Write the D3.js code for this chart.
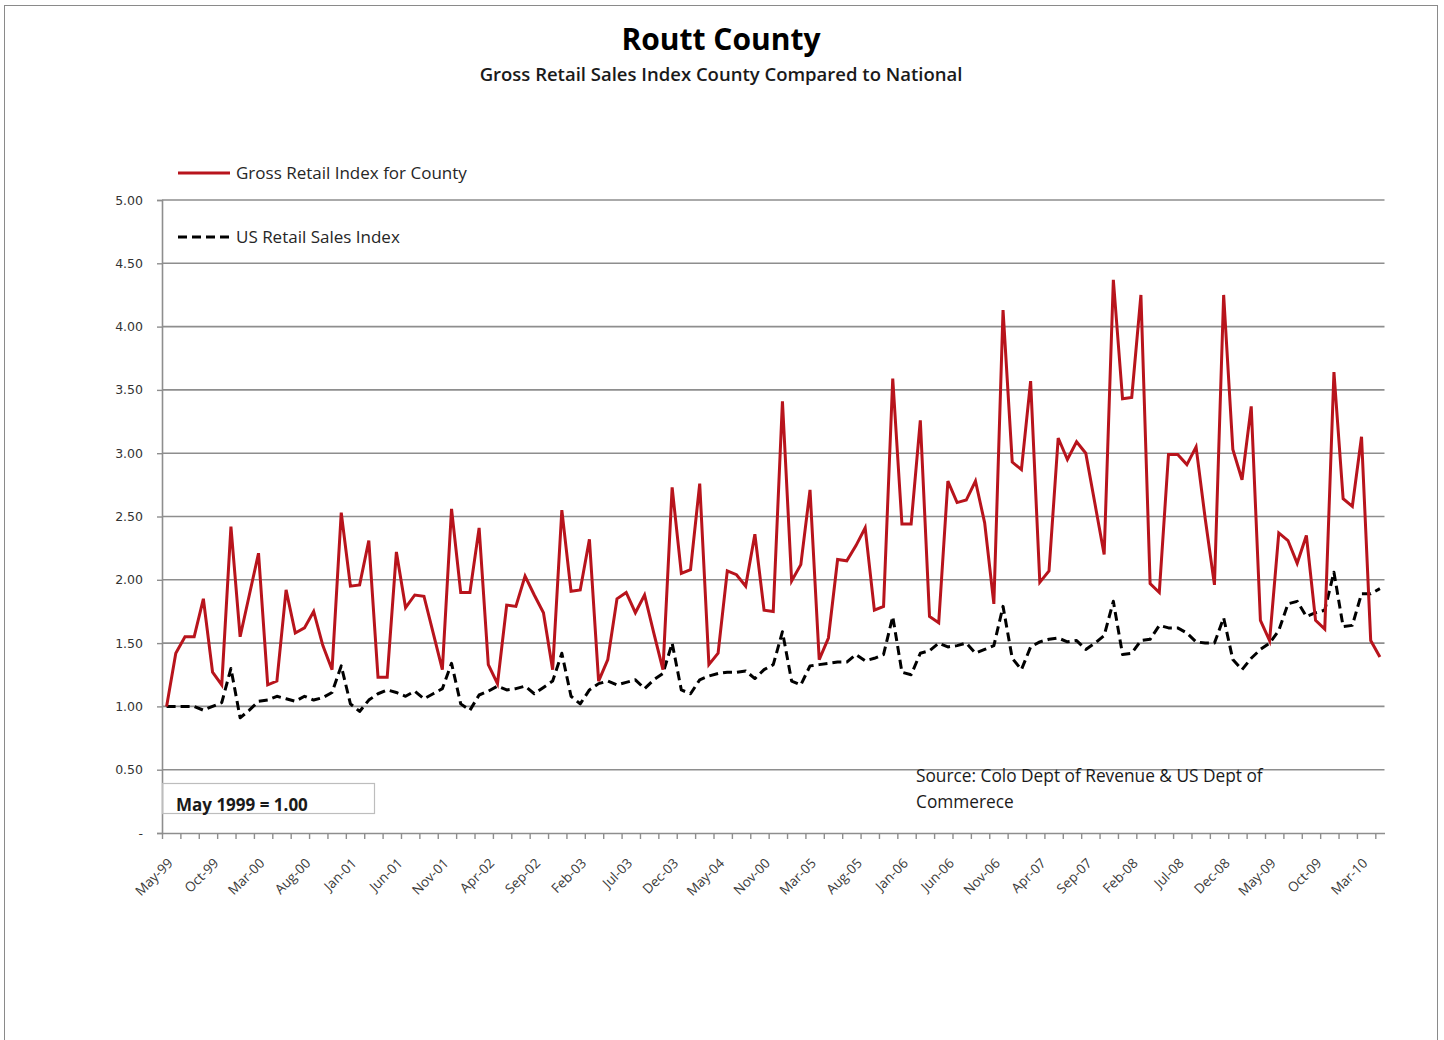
<!DOCTYPE html>
<html>
<head>
<meta charset="utf-8">
<script src="https://cdn.jsdelivr.net/npm/d3@7/dist/d3.min.js"></script>
<style>
  html, body { margin: 0; padding: 0; background: #ffffff; }
  svg { display: block; font-family: "Open Sans", Lato, sans-serif; }
</style>
</head>
<body>
<svg id="chart" width="1444" height="1040"></svg>
<script>
// Monthly index values, May 1999 = 1.00 (May-99 through May-10)
const countyIndex = [
  1.00, 1.42, 1.55, 1.55, 1.85, 1.27, 1.17, 2.42, 1.55, 1.88,
  2.21, 1.17, 1.20, 1.92, 1.58, 1.62, 1.75, 1.48, 1.29, 2.53,
  1.95, 1.96, 2.31, 1.23, 1.23, 2.22, 1.78, 1.88, 1.87, 1.58,
  1.29, 2.56, 1.90, 1.90, 2.41, 1.33, 1.18, 1.80, 1.79, 2.03,
  1.88, 1.74, 1.29, 2.55, 1.91, 1.92, 2.32, 1.20, 1.37, 1.85,
  1.90, 1.74, 1.88, 1.58, 1.29, 2.73, 2.05, 2.08, 2.76, 1.33,
  1.42, 2.07, 2.04, 1.95, 2.36, 1.76, 1.75, 3.41, 1.99, 2.12,
  2.71, 1.37, 1.54, 2.16, 2.15, 2.27, 2.41, 1.76, 1.79, 3.59,
  2.44, 2.44, 3.26, 1.71, 1.66, 2.78, 2.61, 2.63, 2.78, 2.45,
  1.81, 4.13, 2.93, 2.87, 3.57, 1.98, 2.07, 3.12, 2.95, 3.09,
  3.00, 2.60, 2.20, 4.37, 3.43, 3.44, 4.25, 1.97, 1.90, 2.99,
  2.99, 2.91, 3.05, 2.48, 1.96, 4.25, 3.03, 2.79, 3.37, 1.68,
  1.52, 2.37, 2.31, 2.13, 2.35, 1.68, 1.61, 3.64, 2.64, 2.58,
  3.13, 1.52, 1.39
];

const usIndex = [
  1.00, 1.00, 1.00, 1.00, 0.97, 1.00, 1.03, 1.30, 0.91, 0.97,
  1.04, 1.05, 1.08, 1.06, 1.04, 1.08, 1.05, 1.07, 1.11, 1.32,
  1.02, 0.96, 1.05, 1.10, 1.13, 1.11, 1.08, 1.12, 1.06, 1.10,
  1.14, 1.34, 1.02, 0.97, 1.09, 1.12, 1.16, 1.13, 1.14, 1.16,
  1.10, 1.15, 1.20, 1.42, 1.08, 1.02, 1.13, 1.18, 1.20, 1.17,
  1.19, 1.21, 1.14, 1.21, 1.26, 1.50, 1.13, 1.10, 1.21, 1.24,
  1.26, 1.27, 1.27, 1.28, 1.22, 1.29, 1.33, 1.59, 1.20, 1.17,
  1.32, 1.33, 1.34, 1.35, 1.35, 1.41, 1.36, 1.38, 1.41, 1.71,
  1.27, 1.25, 1.42, 1.44, 1.50, 1.47, 1.48, 1.50, 1.42, 1.45,
  1.48, 1.79, 1.38, 1.29, 1.47, 1.51, 1.53, 1.54, 1.51, 1.52,
  1.45, 1.50, 1.56, 1.83, 1.41, 1.42, 1.52, 1.53, 1.64, 1.62,
  1.62, 1.58, 1.51, 1.50, 1.50, 1.70, 1.37, 1.29, 1.38, 1.45,
  1.50, 1.60, 1.81, 1.83, 1.71, 1.74, 1.76, 2.06, 1.63, 1.64,
  1.89, 1.89, 1.93
];

// Category axis labels, one every five months starting at May-99
const tickLabels = [
  "May-99", "Oct-99", "Mar-00", "Aug-00", "Jan-01", "Jun-01", "Nov-01",
  "Apr-02", "Sep-02", "Feb-03", "Jul-03", "Dec-03", "May-04", "Nov-00",
  "Mar-05", "Aug-05", "Jan-06", "Jun-06", "Nov-06", "Apr-07", "Sep-07",
  "Feb-08", "Jul-08", "Dec-08", "May-09", "Oct-09", "Mar-10"
];
const labelEvery = 5;   // months between category labels
const tickEvery = 2;    // months between tick marks

const yTickValues = [0, 0.5, 1, 1.5, 2, 2.5, 3, 3.5, 4, 4.5, 5];

const seriesNames = ["Gross Retail Index for County", "US Retail Sales Index"];
const titleText = "Routt County";
const subtitleText = "Gross Retail Sales Index County Compared to National";
const baseNote = "May 1999 = 1.00";
const sourceLines = ["Source: Colo Dept of Revenue & US Dept of", "Commerece"];

const svg = d3.select("#chart");
const W = 1444, H = 1040;

const plot = { left: 162, right: 1384.5, top: 200, bottom: 833 };
const n = countyIndex.length;

const x = d3.scaleLinear().domain([0, n]).range([plot.left, plot.right]);
const y = d3.scaleLinear().domain([0, 5]).range([plot.bottom, plot.top]);

const gridColor = "#8e8e8e";
const countyColor = "#b8141c";

// outer frame
svg.append("rect")
  .attr("x", 4.5).attr("y", 5.5)
  .attr("width", 1433).attr("height", H + 10)
  .attr("fill", "#ffffff")
  .attr("stroke", "#8a8a8a").attr("stroke-width", 1);

// titles
svg.append("text")
  .attr("x", 721).attr("y", 50)
  .attr("text-anchor", "middle")
  .attr("font-size", 30).attr("font-weight", 700)
  .attr("fill", "#000")
  .text(titleText);

svg.append("text")
  .attr("x", 721).attr("y", 81)
  .attr("text-anchor", "middle")
  .attr("font-size", 18.5).attr("font-weight", 600)
  .attr("fill", "#1a1a1a")
  .text(subtitleText);

// horizontal gridlines
svg.append("g")
  .selectAll("line")
  .data(yTickValues.filter(v => v > 0))
  .join("line")
  .attr("x1", plot.left).attr("x2", plot.right)
  .attr("y1", d => y(d)).attr("y2", d => y(d))
  .attr("stroke", gridColor).attr("stroke-width", 1.6);

// y axis
const yAxis = d3.axisLeft(y)
  .tickValues(yTickValues)
  .tickSize(5)
  .tickPadding(14)
  .tickFormat(v => v === 0 ? "-" : v.toFixed(2));

const yg = svg.append("g")
  .attr("transform", `translate(${plot.left},0)`)
  .call(yAxis);
yg.select(".domain").attr("stroke", gridColor).attr("stroke-width", 1.6);
yg.selectAll(".tick line").attr("stroke", gridColor).attr("stroke-width", 1.4);
yg.selectAll(".tick text")
  .attr("font-family", "'DejaVu Sans', sans-serif")
  .attr("font-size", 12.5).attr("fill", "#333");

// x axis: tick marks every two months, bands centred on each month
const tickIdx = d3.range(0, n, tickEvery);
const xAxis = d3.axisBottom(x)
  .tickValues(tickIdx)
  .tickSize(6)
  .tickSizeOuter(0)
  .tickFormat("");
const xg = svg.append("g")
  .attr("transform", `translate(0,${plot.bottom})`)
  .call(xAxis);
xg.select(".domain").attr("stroke", gridColor).attr("stroke-width", 1.6);
xg.selectAll(".tick line").attr("stroke", gridColor).attr("stroke-width", 1.4);

// rotated category labels
svg.append("g")
  .selectAll("text")
  .data(tickLabels)
  .join("text")
  .attr("transform", (d, i) => `translate(${x(i * labelEvery + 0.5) + 7},${plot.bottom + 31}) rotate(-45)`)
  .attr("text-anchor", "end")
  .attr("font-size", 13.5)
  .attr("fill", "#3a3a3a")
  .text(d => d);

// series lines
const line = d3.line()
  .x((d, i) => x(i + 0.5))
  .y(d => y(d));

svg.append("path")
  .datum(usIndex)
  .attr("d", line)
  .attr("fill", "none")
  .attr("stroke", "#000")
  .attr("stroke-width", 3)
  .attr("stroke-dasharray", "9,5")
  .attr("stroke-linejoin", "round");

svg.append("path")
  .datum(countyIndex)
  .attr("d", line)
  .attr("fill", "none")
  .attr("stroke", countyColor)
  .attr("stroke-width", 3)
  .attr("stroke-linejoin", "miter");

// legend
const legend = svg.append("g");
legend.append("line")
  .attr("x1", 178).attr("x2", 230).attr("y1", 173).attr("y2", 173)
  .attr("stroke", countyColor).attr("stroke-width", 3);
legend.append("text")
  .attr("x", 236).attr("y", 179)
  .attr("font-size", 17).attr("fill", "#262626")
  .text(seriesNames[0]);
legend.append("line")
  .attr("x1", 178).attr("x2", 230).attr("y1", 237).attr("y2", 237)
  .attr("stroke", "#000").attr("stroke-width", 3)
  .attr("stroke-dasharray", "9,5");
legend.append("text")
  .attr("x", 236).attr("y", 243)
  .attr("font-size", 17).attr("fill", "#262626")
  .text(seriesNames[1]);

// base-period note
svg.append("rect")
  .attr("x", 162.5).attr("y", 783.5)
  .attr("width", 212).attr("height", 30)
  .attr("fill", "none")
  .attr("stroke", "#bdbdbd").attr("stroke-width", 1.2);
svg.append("text")
  .attr("x", 176).attr("y", 811)
  .attr("font-size", 17).attr("font-weight", 700)
  .attr("fill", "#1a1a1a")
  .text(baseNote);

// source note
svg.append("g")
  .selectAll("text")
  .data(sourceLines)
  .join("text")
  .attr("x", 916)
  .attr("y", (d, i) => 782 + i * 26)
  .attr("font-size", 17.3)
  .attr("fill", "#1a1a1a")
  .text(d => d);
</script>
</body>
</html>
